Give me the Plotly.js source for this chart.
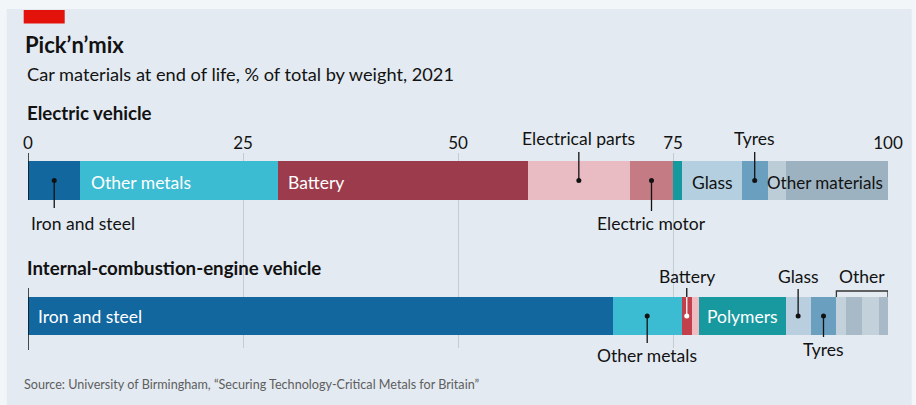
<!DOCTYPE html>
<html>
<head>
<meta charset="utf-8">
<script src="https://cdn.plot.ly/plotly-3.0.1.min.js"></script>
<style>html,body{margin:0;padding:0;background:#fff;}#chart{width:916px;height:405px;}</style>
</head>
<body>
<div id="chart"></div>
<script>
// ---------- DATA ----------
const tickVals = [0, 25, 50, 75, 100];

const evSegments = ['Iron and steel', 'Other metals', 'Battery', 'Electrical parts', 'Electric motor', 'Polymers', 'Glass', 'Tyres', 'Other materials (light)', 'Other materials'];
const evValues   = [6.1, 23.0, 29.0, 11.9, 5.0, 1.1, 6.9, 3.0, 2.1, 11.9];
const evColors   = ['#12679f', '#3bbcd3', '#9c3b4b', '#e8bcc2', '#c57b84', '#14999e', '#b4d0e0', '#6a9fc0', '#bccdd8', '#9db2c0'];

const iceSegments = ['Iron and steel', 'Other metals', 'Battery', 'Electrical parts', 'Polymers', 'Glass', 'Tyres', 'Other 1', 'Other 2', 'Other 3', 'Other 4'];
const iceValues   = [68.0, 8.0, 1.2, 0.8, 10.1, 2.9, 3.0, 1.1, 1.9, 1.9, 1.1];
const iceColors   = ['#12679f', '#3bbcd3', '#c2404c', '#eebcc1', '#17999f', '#b9cfdf', '#6a9fc0', '#c3d1db', '#a8bac7', '#c3d1db', '#a8bac7'];

// ---------- LAYOUT HELPERS ----------
const W = 916, H = 405;
const PL = 28.3, PW = 860, PT = 153, PH = 195;
const px = v => (v - PL) / PW;          // pixel x -> paper x
const py = v => (PT + PH - v) / PH;     // pixel y -> paper y
const FONT = 'Lato, "Open Sans", sans-serif';
const INK = '#121212';

function starts(vals) { const s = []; let c = 0; vals.forEach(v => { s.push(c); c += v; }); return s; }
const evStart = starts(evValues), iceStart = starts(iceValues);
const evMid = evValues.map((v, i) => evStart[i] + v / 2);
const iceMid = iceValues.map((v, i) => iceStart[i] + v / 2);
const evIdx = n => evSegments.indexOf(n), iceIdx = n => iceSegments.indexOf(n);

const EVY = 1, ICEY = 0, BW = 0.285;

const traces = [
  { type: 'bar', orientation: 'h', y: evValues.map(() => EVY), x: evValues, base: evStart, width: BW,
    marker: { color: evColors, line: { width: 0 } }, hoverinfo: 'skip', showlegend: false },
  { type: 'bar', orientation: 'h', y: iceValues.map(() => ICEY), x: iceValues, base: iceStart, width: BW,
    marker: { color: iceColors, line: { width: 0 } }, hoverinfo: 'skip', showlegend: false }
];

// pointer dots
const dotEV = ['Iron and steel', 'Electrical parts', 'Electric motor', 'Tyres'];
const dotICE = ['Other metals', 'Glass', 'Tyres'];
traces.push({ type: 'scatter', mode: 'markers', hoverinfo: 'skip', showlegend: false,
  x: dotEV.map(n => evMid[evIdx(n)]).concat(dotICE.map(n => iceMid[iceIdx(n)])),
  y: dotEV.map(() => EVY).concat(dotICE.map(() => ICEY)),
  marker: { color: INK, size: 5 } });
traces.push({ type: 'scatter', mode: 'markers', hoverinfo: 'skip', showlegend: false,
  x: [iceMid[iceIdx('Battery')]], y: [ICEY], marker: { color: '#ffffff', size: 5 } });

const shapes = [];
// outer panel
shapes.push({ type: 'rect', xref: 'paper', yref: 'paper', x0: px(7), x1: px(912), y0: py(9), y1: py(405), fillcolor: '#e3eaf1', line: { width: 0 }, layer: 'below' });
// red tag
shapes.push({ type: 'rect', xref: 'paper', yref: 'paper', x0: px(24), x1: px(65), y0: py(10), y1: py(23.5), fillcolor: '#e3120b', line: { width: 0 }, layer: 'above' });
// zero lines
shapes.push({ type: 'line', xref: 'x', yref: 'paper', x0: 0, x1: 0, y0: py(153), y1: py(200), line: { color: INK, width: 1.5 } });
shapes.push({ type: 'line', xref: 'x', yref: 'paper', x0: 0, x1: 0, y0: py(288), y1: py(350), line: { color: INK, width: 1.5 } });

function pointer(x, y0, y1, color) {
  shapes.push({ type: 'line', xref: 'x', yref: 'paper', x0: x, x1: x, y0: py(y0), y1: py(y1), line: { color: color || INK, width: 1.3 } });
}
pointer(evMid[evIdx('Iron and steel')], 180.5, 208);
pointer(evMid[evIdx('Electrical parts')], 152, 180.5);
pointer(evMid[evIdx('Electric motor')], 180.5, 211);
pointer(evMid[evIdx('Tyres')], 152, 180.5);
pointer(iceMid[iceIdx('Other metals')], 316, 343);
pointer(iceMid[iceIdx('Battery')], 288, 297);
pointer(iceMid[iceIdx('Battery')], 297, 316, '#ffffff');
pointer(iceMid[iceIdx('Glass')], 289, 316);
pointer(iceMid[iceIdx('Tyres')], 316, 337);
// "Other" bracket
const oStart = iceStart[iceIdx('Other 1')];
shapes.push({ type: 'path', xref: 'x', yref: 'paper', line: { color: '#333', width: 1.3 },
  path: `M${oStart},${py(297)} L${oStart},${py(291)} L100,${py(291)} L100,${py(297)}` });

// ---------- ANNOTATIONS ----------
const ann = [];
const LBL = 17.5;
function txt(text, x, xref, y, opts) {
  ann.push(Object.assign({ text: text, x: x, xref: xref, y: py(y), yref: 'paper', showarrow: false,
    xanchor: 'center', yanchor: 'middle', font: { family: FONT, size: LBL, color: INK } }, opts || {}));
}
const white = { family: FONT, size: LBL, color: '#fff' };
// header text
txt('Car materials at end of life, % of total by weight, 2021', px(25), 'paper', 74, { xanchor: 'left', font: { family: FONT, size: 18.2, color: INK } });
txt('<b>Electric vehicle</b>', px(25), 'paper', 113, { xanchor: 'left', font: { family: FONT, size: 18.7, color: INK } });
txt('<b>Internal-combustion-engine vehicle</b>', px(25), 'paper', 268, { xanchor: 'left', font: { family: FONT, size: 18.7, color: INK } });
txt('Source: University of Birmingham, \u201cSecuring Technology-Critical Metals for Britain\u201d', px(22), 'paper', 384, { xanchor: 'left', font: { family: FONT, size: 12.6, color: '#5e5e5e' } });

// EV labels
txt('Other metals', evStart[evIdx('Other metals')], 'x', 182, { xanchor: 'left', xshift: 9, font: white });
txt('Battery', evStart[evIdx('Battery')], 'x', 182, { xanchor: 'left', xshift: 8, font: white });
txt('Glass', evStart[evIdx('Glass')], 'x', 182, { xanchor: 'left', xshift: 8 });
txt('Other materials', 100, 'x', 182, { xanchor: 'right', xshift: -3, font: { family: FONT, size: 17, color: INK } });
txt('Electrical parts', evMid[evIdx('Electrical parts')], 'x', 138);
txt('Tyres', evMid[evIdx('Tyres')], 'x', 138);
txt('Iron and steel', 0, 'x', 223, { xanchor: 'left', xshift: 1 });
txt('Electric motor', evMid[evIdx('Electric motor')], 'x', 223);
// ICE labels
txt('Iron and steel', 0, 'x', 316, { xanchor: 'left', xshift: 8, font: white });
txt('Polymers', iceStart[iceIdx('Polymers')], 'x', 316, { xanchor: 'left', xshift: 6, font: white });
txt('Battery', iceMid[iceIdx('Battery')], 'x', 276.5);
txt('Glass', iceMid[iceIdx('Glass')], 'x', 276.5);
txt('Other', (oStart + 100) / 2, 'x', 276.5);
txt('Other metals', iceMid[iceIdx('Other metals')], 'x', 355);
txt('Tyres', iceMid[iceIdx('Tyres')], 'x', 349);

const layout = {
  width: W, height: H,
  margin: { l: PL, r: W - PL - PW, t: PT, b: H - PT - PH, pad: 0 },
  paper_bgcolor: '#f3f6f9', plot_bgcolor: 'rgba(0,0,0,0)',
  font: { family: FONT, color: INK, size: 16 },
  title: { text: '<b>Pick\u2019n\u2019mix</b>', x: 25 / W, xref: 'container', xanchor: 'left', y: 1 - 45 / H, yref: 'container', yanchor: 'middle',
    font: { family: FONT, size: 22, color: INK } },
  xaxis: { range: [0, 100], side: 'top', tickvals: tickVals, ticktext: tickVals.map(String), ticks: '', showgrid: true,
    gridcolor: '#c4ccd3', gridwidth: 1, zeroline: false, showline: false, fixedrange: true,
    tickfont: { family: FONT, size: 17, color: INK } },
  yaxis: { range: [ICEY - (PT + PH - 316) / 135.5, EVY + (180.5 - PT) / 135.5], showgrid: false, zeroline: false,
    showticklabels: false, ticks: '', fixedrange: true },
  bargap: 0, barmode: 'overlay',
  shapes: shapes, annotations: ann, showlegend: false
};

Plotly.newPlot('chart', traces, layout, { displayModeBar: false, staticPlot: true });
</script>
</body>
</html>
